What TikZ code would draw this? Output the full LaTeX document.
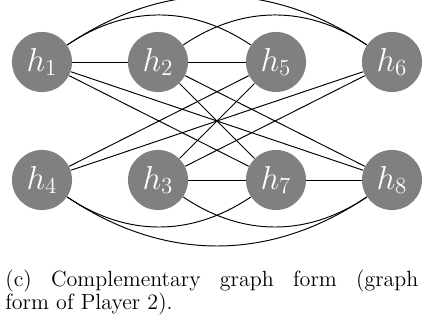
\documentclass[tikz,border=0pt]{standalone}
\begin{document}
\begin{tikzpicture}[x=0.521pt,y=-0.521pt,
  hn/.style={circle,fill=gray,text=white,minimum size=31.3pt,inner sep=0pt,font=\LARGE},
  edge/.style={line width=0.5pt,black}]
\useasboundingbox (0,0) rectangle (423,321);
\node[hn] (h1) at (42,62) {$h_1$};
\node[hn] (h2) at (158,62) {$h_2$};
\node[hn] (h5) at (276,62) {$h_5$};
\node[hn] (h6) at (392,62) {$h_6$};
\node[hn] (h4) at (42,180) {$h_4$};
\node[hn] (h3) at (158,180) {$h_3$};
\node[hn] (h7) at (276,180) {$h_7$};
\node[hn] (h8) at (392,180) {$h_8$};
% top edges
\draw[edge] (h1) -- (h2);
\draw[edge] (h2) -- (h5);
\draw[edge] (h1) to[bend left=34] (h5);
\draw[edge] (h1) to[bend left=34] (h6);
\draw[edge] (h2) to[bend left=34] (h6);
% bottom edges
\draw[edge] (h3) -- (h7);
\draw[edge] (h7) -- (h8);
\draw[edge] (h4) to[bend right=34] (h7);
\draw[edge] (h4) to[bend right=34] (h8);
\draw[edge] (h3) to[bend right=34] (h8);
% cross edges
\draw[edge] (h1) -- (h7);
\draw[edge] (h1) -- (h8);
\draw[edge] (h2) -- (h7);
\draw[edge] (h2) -- (h8);
\draw[edge] (h5) -- (h4);
\draw[edge] (h5) -- (h3);
\draw[edge] (h6) -- (h4);
\draw[edge] (h6) -- (h3);
\node[anchor=north west,inner sep=0pt,text width=215.2pt,align=justify,font=\fontsize{11.46}{11.7}\selectfont] (cap) at (5,270)
  {(c) Complementary graph form (graph\linebreak form of Player 2).};
\end{tikzpicture}
\end{document}
